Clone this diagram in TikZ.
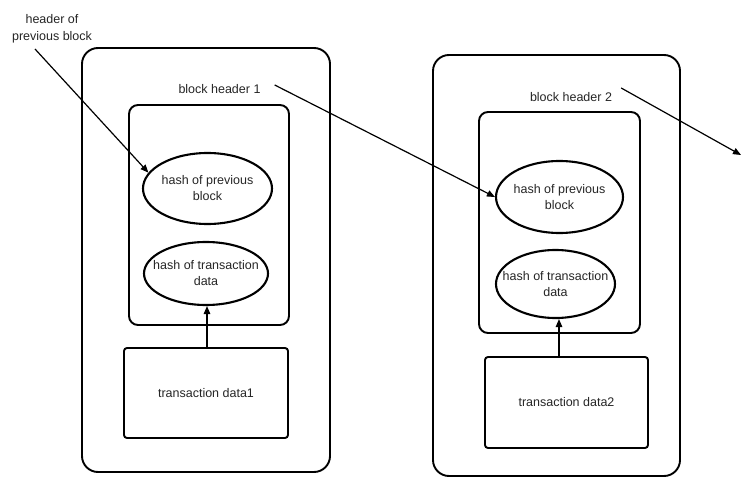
\documentclass[tikz,border=0pt]{standalone}
\usepackage{fontspec}
\setmainfont{Liberation Sans}
\usetikzlibrary{shapes.geometric,arrows.meta}
\begin{document}
\begin{tikzpicture}[x=1pt,y=-1pt,
  txt/.style={font=\fontsize{12.5}{16}\selectfont,text=black!85},
  outer/.style={draw,line width=1.9pt,rounded corners=16pt,inner sep=0pt},
  hdr/.style={draw,line width=1.9pt,rounded corners=9pt,inner sep=0pt},
  hashnode/.style={draw,ellipse,line width=2.1pt,inner xsep=-12pt,inner ysep=0pt,align=center,txt},
  txbox/.style={draw,line width=1.9pt,rounded corners=3pt,inner sep=0pt,txt},
  lbl/.style={inner sep=1pt,align=center,txt},
  link/.style={line width=1.2pt,-{Triangle[length=8pt,width=6.5pt]}}
]
\useasboundingbox[fill=white] (0,0) rectangle (741,478);
% block 1
\node[outer,minimum width=248pt,minimum height=424pt] (outer1) at (206,260) {};
\node[hdr,minimum width=160pt,minimum height=220pt] (hdr1) at (209,215) {};
\node[hashnode,minimum width=129pt,minimum height=71pt] (ell1) at (207.5,188.5) {hash of previous\\block};
\node[hashnode,minimum width=124pt,minimum height=63pt] (ell2) at (206,273.5) {hash of transaction\\data};
\node[txbox,minimum width=164pt,minimum height=90pt] (tx1) at (206,393) {transaction data1};
\node[lbl] (bh1) at (219.5,89) {block header 1};
% block 2
\node[outer,minimum width=247pt,minimum height=421pt] (outer2) at (556.5,265.5) {};
\node[hdr,minimum width=161pt,minimum height=221pt] (hdr2) at (559.5,222.5) {};
\node[hashnode,minimum width=127pt,minimum height=72pt] (ell3) at (559.5,197) {hash of previous\\block};
\node[hashnode,minimum width=119pt,minimum height=68pt] (ell4) at (555.5,284) {hash of transaction\\data};
\node[txbox,minimum width=163pt,minimum height=91pt] (tx2) at (566.5,402.5) {transaction data2};
\node[lbl] (bh2) at (571,97) {block header 2};
% previous label
\node[lbl,font=\fontsize{12.5}{17}\selectfont] (prev) at (52,28.5) {header of\\previous block};
\coordinate (p0) at (35,49);
\coordinate (next) at (741,155);
% connectors
\draw[link] (p0) -- (ell1.165);
\draw[link] ([xshift=13pt,yshift=4pt]bh1.east) -- (ell3.west);
\draw[link] ([xshift=8pt,yshift=9pt]bh2.east) -- (next);
\draw[link] ([xshift=1pt]tx1.north) -- ([xshift=1pt]ell2.south);
\draw[link] ([xshift=-7.5pt]tx2.north) -- ([xshift=-7.5pt]tx2.north |- ell4.south);
\end{tikzpicture}
\end{document}
